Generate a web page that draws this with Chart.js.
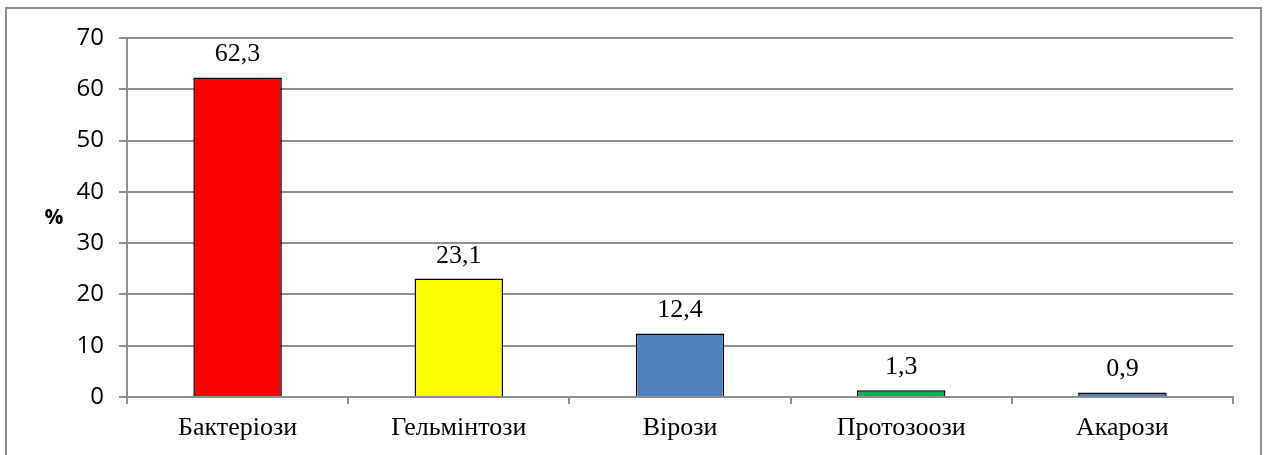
<!DOCTYPE html>
<html>
<head>
<meta charset="utf-8">
<script src="https://cdn.jsdelivr.net/npm/chart.js@4/dist/chart.umd.min.js"></script>
<style>
  html, body { margin: 0; padding: 0; background: #fff; }
  #wrap { position: relative; width: 1264px; height: 455px; }
</style>
</head>
<body>
<div id="wrap"><canvas id="chart_diseases"></canvas></div>
<script>
var categories = ['Бактеріози', 'Гельмінтози', 'Вірози', 'Протозоози', 'Акарози'];
var values = [62.3, 23.1, 12.4, 1.3, 0.9];
var barColors = ['#FF0000', '#FFFF00', '#4F81BD', '#00B050', '#4F81BD'];
var yTicks = [0, 10, 20, 30, 40, 50, 60, 70];
var axisLabel = '%';

var gridGray = '#8e8e8e';

var chart_diseases = new Chart(document.getElementById('chart_diseases'), {
    type: 'bar',
    data: {
        labels: categories,
        datasets: [
            {
                data: values,
                backgroundColor: barColors,
                borderColor: '#000000',
                borderWidth: 1.5,
                borderSkipped: 'bottom',
                barPercentage: 0.4,
                categoryPercentage: 1.0
            }
        ]
    },
    options: {
        animation: false,
        responsive: true,
        maintainAspectRatio: false,
        layout: {
            padding: { left: 0, right: 31, top: 38, bottom: 0 }
        },
        plugins: {
            legend: { display: false },
            tooltip: { enabled: false }
        },
        scales: {
            x: {
                type: 'category',
                offset: true,
                grid: {
                    display: true,
                    drawOnChartArea: false,
                    drawTicks: true,
                    tickLength: 7,
                    offset: true,
                    color: gridGray,
                    lineWidth: 2
                },
                border: { display: true, color: gridGray, width: 2 },
                ticks: {
                    color: '#000',
                    padding: 9,
                    maxRotation: 0,
                    font: { family: '"Liberation Serif", "Times New Roman", serif', size: 26 }
                },
                afterFit: function(scale) { scale.height = 58; }
            },
            y: {
                min: yTicks[0],
                max: yTicks[yTicks.length - 1],
                afterBuildTicks: function(scale) {
                    scale.ticks = yTicks.map(function(v) { return { value: v }; });
                },
                grid: {
                    color: gridGray,
                    lineWidth: 2,
                    tickLength: 8,
                    drawTicks: true
                },
                border: { display: true, color: gridGray, width: 2 },
                ticks: {
                    color: '#000',
                    padding: 15,
                    font: { family: '"Open Sans", "Noto Sans", sans-serif', size: 24 }
                },
                afterFit: function(scale) { scale.width = 127; }
            }
        }
    },
    plugins: [{
        id: 'frameAndLabels',
        beforeDraw: (chart) => {
            const ctx = chart.ctx;
            ctx.save();
            ctx.fillStyle = 'white';
            ctx.fillRect(0, 0, chart.width, chart.height);
            ctx.strokeStyle = gridGray;
            ctx.lineWidth = 2;
            ctx.strokeRect(6, 8, 1255, chart.height + 10);
            ctx.restore();
        },
        afterDatasetsDraw: (chart) => {
            const ctx = chart.ctx;
            const meta = chart.getDatasetMeta(0);
            ctx.save();
            ctx.fillStyle = '#000';
            ctx.font = '26px "Liberation Serif", "Times New Roman", serif';
            ctx.textAlign = 'center';
            ctx.textBaseline = 'alphabetic';
            meta.data.forEach(function(bar, i) {
                ctx.fillText(String(values[i]).replace('.', ','), bar.x, bar.y - 16);
            });
            // horizontal "%" axis label
            const yScale = chart.scales.y;
            ctx.font = 'bold 21px "Open Sans", "Noto Sans", sans-serif';
            ctx.textBaseline = 'middle';
            ctx.fillText(axisLabel, 54, (yScale.top + yScale.bottom) / 2 + 1);
            ctx.restore();
        }
    }]
});
</script>
</body>
</html>
